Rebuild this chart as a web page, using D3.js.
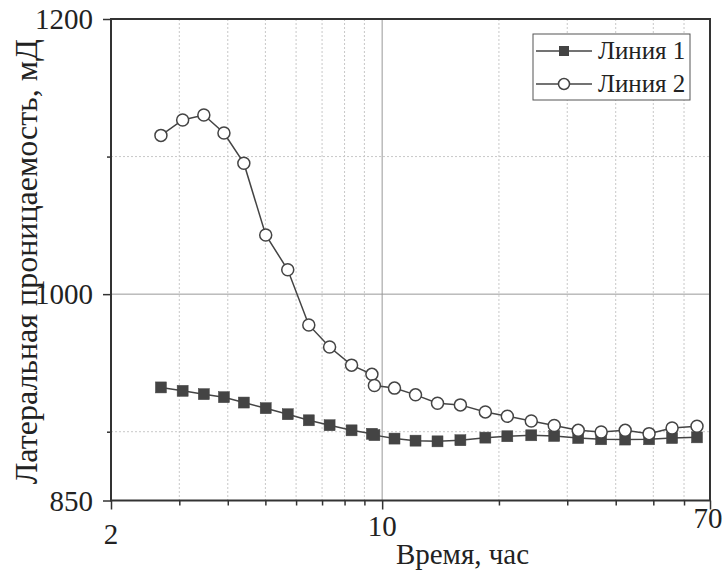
<!DOCTYPE html>
<html><head><meta charset="utf-8">
<script src="https://cdn.jsdelivr.net/npm/d3@7"></script>
</head><body style="margin:0">
<svg id="c" width="727" height="573" style="font-family:'Liberation Serif',serif"></svg>
<script>
const times = [2.69,3.06,3.47,3.91,4.40,5.01,5.71,6.47,7.32,8.34,9.41,9.55,10.76,12.19,13.89,15.91,18.45,21.02,24.23,27.77,32.02,36.69,42.31,48.76,55.89,64.8];
const line1 = [932.2,929.7,927.3,925.1,921.2,917.1,912.7,908.3,904.7,901.0,898.5,897.5,895.0,893.5,893.0,893.8,895.7,896.7,897.4,896.9,895.4,894.5,894.3,894.5,895.4,895.9];
const line2 = [1115.4,1126.6,1130.2,1117.1,1095.2,1043.0,1017.7,977.6,961.6,948.4,941.7,933.6,931.7,926.8,920.7,919.5,914.4,911.3,907.8,904.5,901.0,899.8,901.0,898.6,902.7,904.0];
const seriesNames = ["Линия 1","Линия 2"];
const xMajor = [2,10,70];
const xMinor = [3,4,5,6,7,8,9,20,30,40,50,60];
const yMajor = [850,1000,1200];
const yMinor = [900,1100];
const xTitle = "Время, час";
const yTitle = "Латеральная проницаемость, мД";

const L=111,R=710,T=19,B=500.5;
const svg=d3.select("#c");
const x=d3.scaleLog().domain([2,70]).range([L,R]);
const y=d3.scaleLinear().domain([850,1200]).range([B,T]);
const col="#444";
function txt(sel){return sel.style("font-family","\"Liberation Serif\"").style("fill","#222");}

// grid
const g=svg.append("g");
g.selectAll(".vx").data(xMinor).join("line").attr("x1",d=>x(d)).attr("x2",d=>x(d)).attr("y1",T).attr("y2",B)
 .attr("stroke","#c8c8c8").attr("stroke-width",1).attr("stroke-dasharray","2,2");
g.append("line").attr("x1",x(10)).attr("x2",x(10)).attr("y1",T).attr("y2",B).attr("stroke","#999").attr("stroke-width",1);
g.selectAll(".hy").data(yMinor).join("line").attr("y1",d=>y(d)).attr("y2",d=>y(d)).attr("x1",L).attr("x2",R)
 .attr("stroke","#c8c8c8").attr("stroke-width",1).attr("stroke-dasharray","2,2");
g.append("line").attr("y1",y(1000)).attr("y2",y(1000)).attr("x1",L).attr("x2",R).attr("stroke","#999").attr("stroke-width",1);

// axes
const xa=svg.append("g").attr("transform",`translate(0,${B})`);
xa.call(d3.axisBottom(x).tickValues(xMajor).tickSize(9).tickFormat(""));
xa.append("g").call(d3.axisBottom(x).tickValues(xMinor).tickSize(5).tickFormat(""));
xa.selectAll("path.domain").attr("stroke","none");
xa.selectAll("line").attr("stroke","#333").attr("stroke-width",1.5);
const ya=svg.append("g").attr("transform",`translate(${L},0)`);
ya.call(d3.axisLeft(y).tickValues(yMajor).tickSize(8).tickFormat(""));
ya.append("g").call(d3.axisLeft(y).tickValues(yMinor).tickSize(4).tickFormat(""));
ya.selectAll("path.domain").attr("stroke","none");
ya.selectAll("line").attr("stroke","#333").attr("stroke-width",1.5);
svg.append("rect").attr("x",L).attr("y",T).attr("width",R-L).attr("height",B-T).attr("fill","none").attr("stroke","#333").attr("stroke-width",2);

// tick labels
const xl=[{v:2,b:544},{v:10,b:536},{v:70,b:528}];
txt(svg.selectAll(".xl").data(xl).join("text")).attr("x",d=>x(d.v)+(d.v===70?-2:0)).attr("y",d=>d.b).attr("text-anchor","middle")
 .style("font-size","29px").text(d=>d.v);
txt(svg.selectAll(".yl").data(yMajor).join("text")).attr("x",L-18).attr("y",d=>y(d)+10).attr("text-anchor","end")
 .style("font-size","29px").text(d=>d);
txt(svg.append("text")).attr("x",(L+R)/2+52).attr("y",564).attr("text-anchor","middle").style("font-size","29px").text(xTitle);
txt(svg.append("text")).attr("transform",`translate(37,${(T+B)/2+2}) rotate(-90)`).attr("text-anchor","middle").style("font-size","32px").text(yTitle);

// series
const pts1=times.map((t,i)=>[t,line1[i]]), pts2=times.map((t,i)=>[t,line2[i]]);
const ln=d3.line().x(d=>x(d[0])).y(d=>y(d[1]));
svg.append("path").attr("d",ln(pts1)).attr("fill","none").attr("stroke",col).attr("stroke-width",1.5);
svg.append("path").attr("d",ln(pts2)).attr("fill","none").attr("stroke",col).attr("stroke-width",1.5);
svg.selectAll(".sq").data(pts1).join("rect").attr("x",d=>x(d[0])-5.5).attr("y",d=>y(d[1])-5.5).attr("width",11).attr("height",11)
 .attr("fill",col).attr("stroke",col).attr("stroke-width",0.5);
svg.selectAll(".ci").data(pts2).join("circle").attr("cx",d=>x(d[0])).attr("cy",d=>y(d[1])).attr("r",6)
 .attr("fill","#fff").attr("stroke",col).attr("stroke-width",1.5);

// legend
const lg=svg.append("g");
lg.append("rect").attr("x",533).attr("y",34).attr("width",157).attr("height",66).attr("fill","#fff").attr("stroke","#555").attr("stroke-width",1);
[51,84].forEach((yy,i)=>{
  lg.append("line").attr("x1",536).attr("x2",592).attr("y1",yy).attr("y2",yy).attr("stroke",col).attr("stroke-width",1.5);
  if(i===0) lg.append("rect").attr("x",559).attr("y",yy-5).attr("width",10).attr("height",10).attr("fill",col);
  else lg.append("circle").attr("cx",564).attr("cy",yy).attr("r",5.5).attr("fill","#fff").attr("stroke",col).attr("stroke-width",1.5);
  txt(lg.append("text")).attr("x",598).attr("y",yy+8).style("font-size","25px").text(seriesNames[i]);
});
</script>
</body></html>
